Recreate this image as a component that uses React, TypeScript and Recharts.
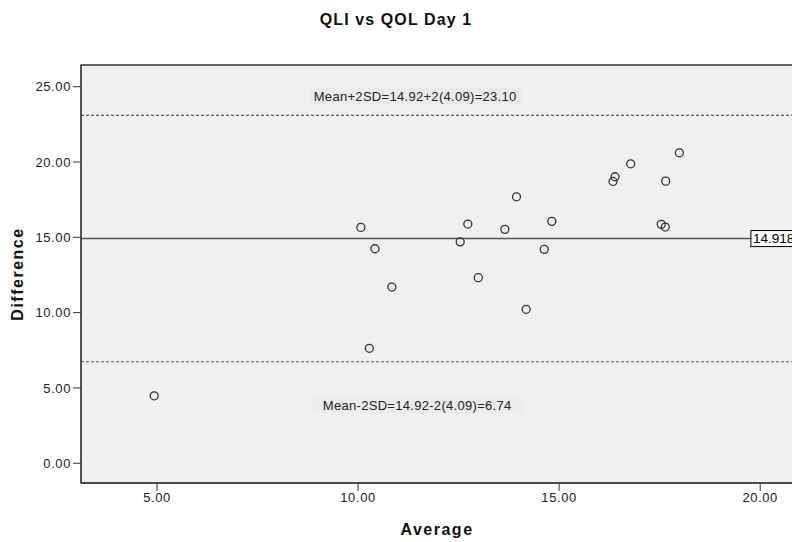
import { ScatterChart, Scatter, XAxis, YAxis, CartesianGrid, ReferenceLine, ReferenceDot, ReferenceArea } from 'recharts';

// Bland-Altman: QLI vs QOL, day 1
const avgValues = [4.93, 10.07, 10.42, 10.84, 10.28, 12.54, 12.73, 12.99, 13.65, 13.94, 14.18, 14.63, 14.82, 16.34, 16.39, 16.78, 17.99, 17.65, 17.54, 17.64];
const diffValues = [4.48, 15.66, 14.24, 11.70, 7.63, 14.70, 15.88, 12.32, 15.53, 17.69, 10.22, 14.20, 16.06, 18.71, 19.02, 19.88, 20.61, 18.73, 15.86, 15.68];

const meanDiff = 14.918;
const upperLimit = 23.10;
const lowerLimit = 6.74;
const upperText = 'Mean+2SD=14.92+2(4.09)=23.10';
const lowerText = 'Mean-2SD=14.92-2(4.09)=6.74';

const xTicks = [5, 10, 15, 20];
const yTicks = [0, 5, 10, 15, 20, 25];
const xDomain = [3.11, 21];
const yDomain = [-1.31, 26.44];

const data = avgValues.map((a, i) => ({ avg: a, diff: diffValues[i] }));

const FONT = '"Liberation Sans", Arial, sans-serif';

const OpenCircle = (props: any) => (
  <circle cx={props.cx} cy={props.cy} r={4} fill="none" stroke="#333" strokeWidth={1.3} />
);

const NoteLabel = (text: string) => (props: any) => {
  const { viewBox } = props;
  const cx = viewBox.x + (viewBox.width || 0) / 2;
  const cy = viewBox.y + (viewBox.height || 0) / 2;
  return (
    <g>
      <rect x={cx - 106} y={cy - 8} width={212} height={16} fill="#ebebeb" />
      <text x={cx} y={cy} dy="0.35em" textAnchor="middle" fontSize={13} fill="#222" fontFamily={FONT} letterSpacing={0.3}>
        {text}
      </text>
    </g>
  );
};

const MeanBox = (props: any) => {
  const { viewBox } = props;
  const x = viewBox.x + (viewBox.width || 0) / 2;
  const y = viewBox.y + (viewBox.height || 0) / 2;
  return (
    <g>
      <rect x={x} y={y - 8} width={48} height={16} fill="#fff" stroke="#000" strokeWidth={1} />
      <text x={x + 2} y={y} dy="0.36em" fontSize={13.5} fill="#000" fontFamily={FONT}>
        {meanDiff.toFixed(3)}
      </text>
    </g>
  );
};

export default function App() {
  return (
    <div style={{ position: 'absolute', left: 0, top: 0, width: 792, height: 542, overflow: 'hidden', background: '#fff', fontFamily: FONT }}>
      <div style={{ position: 'absolute', top: 11, left: 0, width: 792, textAlign: 'center', fontSize: 16, fontWeight: 'bold', color: '#111', letterSpacing: 1.1 }}>
        QLI vs QOL Day 1
      </div>
      <ScatterChart width={810} height={542} margin={{ top: 65, right: 9.6, bottom: 0, left: 0 }}>
        <CartesianGrid fill="#f0f0f0" horizontal={false} vertical={false} />
        <XAxis
          type="number"
          dataKey="avg"
          domain={xDomain}
          ticks={xTicks}
          allowDataOverflow
          tickFormatter={(v) => v.toFixed(2)}
          height={59}
          tickSize={8}
          stroke="#333"
          tick={{ fill: '#222', fontSize: 13, fontFamily: FONT, letterSpacing: 0.6 }}
          label={{
            content: () => (
              <text x={437} y={529} dy="0.35em" textAnchor="middle" fontSize={16} fontWeight="bold" fill="#111" fontFamily={FONT} letterSpacing={1.5}>
                Average
              </text>
            ),
          }}
        />
        <YAxis
          type="number"
          dataKey="diff"
          domain={yDomain}
          ticks={yTicks}
          allowDataOverflow
          tickFormatter={(v) => v.toFixed(2)}
          width={81}
          tickSize={8}
          stroke="#333"
          tick={{ fill: '#222', fontSize: 13, fontFamily: FONT, letterSpacing: 0.6 }}
          label={{
            content: (p: any) => {
              const cy = p.viewBox.y + p.viewBox.height / 2;
              return (
                <text x={17} y={cy} dy="0.35em" textAnchor="middle" fontSize={16} fontWeight="bold" fill="#111" fontFamily={FONT} letterSpacing={1.5} transform={`rotate(-90 17 ${cy})`}>
                  Difference
                </text>
              );
            },
          }}
        />
        <ReferenceArea x1={xDomain[0]} x2={xDomain[1]} y1={yDomain[0]} y2={yDomain[1]} fill="none" stroke="#333" strokeWidth={1.3} ifOverflow="visible" />
        <ReferenceLine y={upperLimit} stroke="#5a5a5a" strokeDasharray="3 2" strokeWidth={1.2} />
        <ReferenceLine y={lowerLimit} stroke="#5a5a5a" strokeDasharray="3 2" strokeWidth={1.2} />
        <ReferenceLine y={meanDiff} stroke="#555" strokeWidth={1.4} />
        <ReferenceDot x={11.42} y={24.38} r={0} fill="none" stroke="none" label={{ content: NoteLabel(upperText) }} />
        <ReferenceDot x={11.47} y={3.87} r={0} fill="none" stroke="none" label={{ content: NoteLabel(lowerText) }} />
        <ReferenceDot x={19.77} y={meanDiff} r={0} fill="none" stroke="none" label={{ content: MeanBox }} />
        <Scatter data={data} shape={<OpenCircle />} isAnimationActive={false} />
      </ScatterChart>
    </div>
  );
}
